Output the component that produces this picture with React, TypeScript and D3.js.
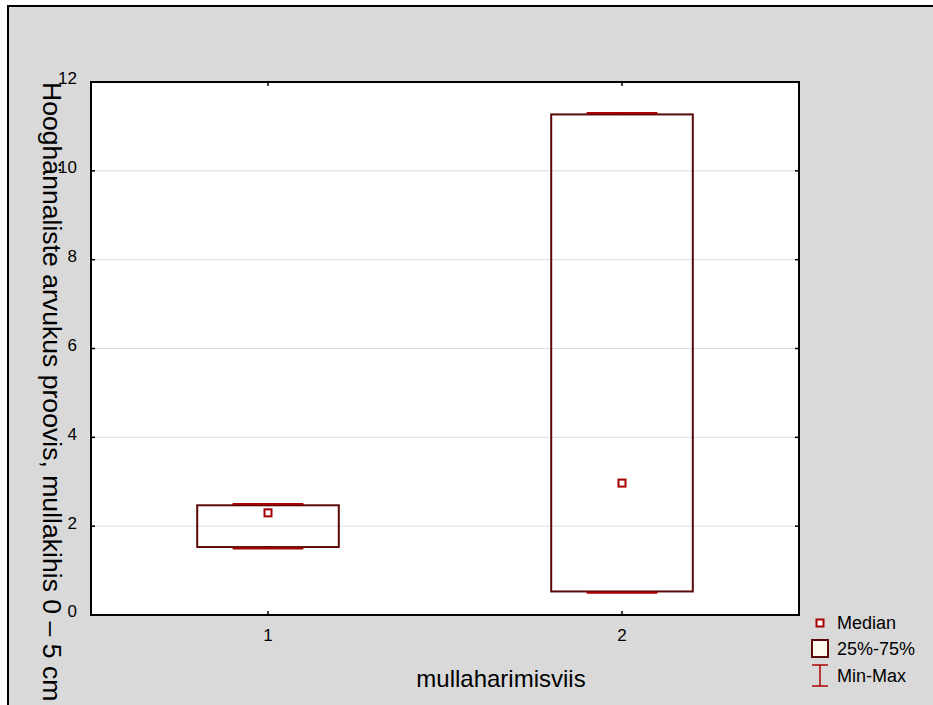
import React from "react";
import * as d3 from "d3";

const categories = ["1", "2"];
const minValues = [1.5, 0.5];
const q1Values = [1.53, 0.53];
const medianValues = [2.3, 2.97];
const q3Values = [2.47, 11.27];
const maxValues = [2.5, 11.3];
const yTicks = [0, 2, 4, 6, 8, 10, 12];
const legendLabels = ["Median", "25%-75%", "Min-Max"];

const W = 933;
const H = 705;
const plot = { left: 91, top: 82, right: 799, bottom: 615 };
const FONT = "'Liberation Sans', Arial, sans-serif";
const BOX = "#5a0808";
const RED = "#a80000";

export default function App() {
  const x = d3
    .scalePoint<string>()
    .domain(categories)
    .range([plot.left, plot.right])
    .padding(0.5);
  const y = d3.scaleLinear().domain([0, 12]).range([plot.bottom, plot.top]);
  const pw = plot.right - plot.left;
  const boxW = pw * 0.2;
  const capW = boxW / 2;

  return (
    <div style={{ position: "absolute", left: 0, top: 0 }}>
      <svg width={W} height={H} style={{ display: "block", fontFamily: FONT }}>
        <rect x={0} y={0} width={W} height={H} fill="#ffffff" />
        <rect x={8} y={6} width={W + 10} height={H + 10} fill="#d9d9d9" stroke="#000" strokeWidth={2} />
        <rect
          x={plot.left}
          y={plot.top}
          width={pw}
          height={plot.bottom - plot.top}
          fill="#ffffff"
        />
        {yTicks
          .filter((t) => t > 0 && t < 12)
          .map((t) => (
            <line
              key={"g" + t}
              x1={plot.left}
              x2={plot.right}
              y1={y(t)}
              y2={y(t)}
              stroke="#dcdcdc"
              strokeWidth={1}
            />
          ))}
        {categories.map((c, i) => {
          const cx = x(c)!;
          return (
            <g key={c}>
              <rect
                x={cx - boxW / 2}
                y={y(q3Values[i])}
                width={boxW}
                height={y(q1Values[i]) - y(q3Values[i])}
                fill="none"
                stroke={BOX}
                strokeWidth={2}
              />
              <line x1={cx - capW / 2} x2={cx + capW / 2} y1={y(maxValues[i])} y2={y(maxValues[i])} stroke={RED} strokeWidth={2} />
              <line x1={cx - capW / 2} x2={cx + capW / 2} y1={y(minValues[i])} y2={y(minValues[i])} stroke={RED} strokeWidth={2} />
              <line x1={cx} x2={cx} y1={y(maxValues[i])} y2={y(q3Values[i])} stroke={RED} strokeWidth={2} />
              <line x1={cx} x2={cx} y1={y(q1Values[i])} y2={y(minValues[i])} stroke={RED} strokeWidth={2} />
              <rect
                x={cx - 3.5}
                y={y(medianValues[i]) - 3.5}
                width={7}
                height={7}
                fill="#fff"
                stroke={RED}
                strokeWidth={2}
              />
            </g>
          );
        })}
        <rect
          x={plot.left}
          y={plot.top}
          width={pw}
          height={plot.bottom - plot.top}
          fill="none"
          stroke="#000"
          strokeWidth={2}
        />
        {yTicks.map((t) => (
          <g key={"t" + t}>
            <line x1={plot.left} x2={plot.left + 4} y1={y(t)} y2={y(t)} stroke="#000" strokeWidth={1.5} />
            <line x1={plot.right - 4} x2={plot.right} y1={y(t)} y2={y(t)} stroke="#000" strokeWidth={1.5} />
            <text x={77} y={y(t) - 2} fontSize={17} textAnchor="end" dominantBaseline="middle" fill="#000">
              {t}
            </text>
          </g>
        ))}
        {categories.map((c) => (
          <g key={"x" + c}>
            <line x1={x(c)!} x2={x(c)!} y1={plot.bottom} y2={plot.bottom - 4} stroke="#000" strokeWidth={1.5} />
            <line x1={x(c)!} x2={x(c)!} y1={plot.top} y2={plot.top + 4} stroke="#000" strokeWidth={1.5} />
            <text x={x(c)!} y={641} fontSize={17} textAnchor="middle" fill="#000">
              {c}
            </text>
          </g>
        ))}
        <text x={501} y={687} fontSize={24} textAnchor="middle" fill="#000">
          mullaharimisviis
        </text>
        <text transform={`translate(43,82) rotate(90)`} fontSize={26.6} textAnchor="start" fill="#000">
          Hooghännaliste arvukus proovis, mullakihis 0 – 5 cm
        </text>
        {/* legend */}
        <rect x={816.5} y={619.5} width={7} height={7} fill="#fff" stroke={RED} strokeWidth={2} />
        <text x={837} y={629} fontSize={18} fill="#000">{legendLabels[0]}</text>
        <rect x={812} y={640} width={16} height={17} fill="#fff8ec" stroke={BOX} strokeWidth={2} />
        <text x={837} y={655} fontSize={18} fill="#000">{legendLabels[1]}</text>
        <line x1={812} x2={828} y1={665} y2={665} stroke={RED} strokeWidth={1.5} />
        <line x1={812} x2={828} y1={686} y2={686} stroke={RED} strokeWidth={1.5} />
        <line x1={820} x2={820} y1={665} y2={686} stroke={RED} strokeWidth={1.5} />
        <text x={837} y={682} fontSize={18} fill="#000">{legendLabels[2]}</text>
      </svg>
    </div>
  );
}
